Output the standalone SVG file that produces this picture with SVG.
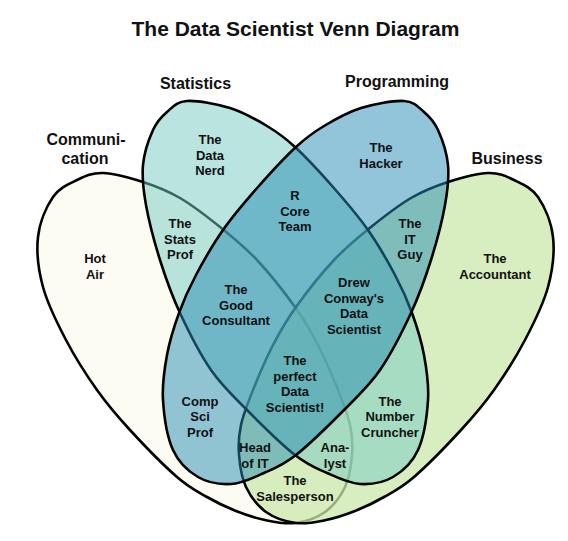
<svg xmlns="http://www.w3.org/2000/svg" xmlns:xlink="http://www.w3.org/1999/xlink" width="568" height="541" viewBox="0 0 568 541">
<style>
text{font-family:"Liberation Sans",Arial,sans-serif;font-weight:bold;fill:#111;text-anchor:middle}
.title{font-size:21px}
.set{font-size:16px}
.reg{font-size:13px}
.shape{stroke:#000;stroke-width:2.6;stroke-linejoin:round}
.comm{fill:#fcfcf2}
.bus{fill:rgb(204,232,171);fill-opacity:0.75}
.stats{fill:rgb(115,201,193);fill-opacity:0.5}
.prog{fill:rgb(37,139,179);fill-opacity:0.5}
</style>
<defs>
<path id="stats-shape" d="M187,101 C197.5,100.33 216.67,103.83 230,108 C243.33,112.17 256.17,119.5 267,126 C277.83,132.5 284,136.83 295,147 C306,157.17 320.83,173.17 333,187 C345.17,200.83 357.67,215.33 368,230 C378.33,244.67 387.67,261.17 395,275 C402.33,288.83 407.17,299.67 412,313 C416.83,326.33 421.33,340.5 424,355 C426.67,369.5 429,384.17 428,400 C427,415.83 423.83,437.17 418,450 C412.17,462.83 402.67,471.33 393,477 C383.33,482.67 371,484.67 360,484 C349,483.33 337.83,477.83 327,473 C316.17,468.17 308.33,465.5 295,455 C281.67,444.5 261,424.17 247,410 C233,395.83 222.17,386.17 211,370 C199.83,353.83 188.5,331.33 180,313 C171.5,294.67 165.67,278 160,260 C154.33,242 148.83,220.83 146,205 C143.17,189.17 141.83,177.5 143,165 C144.17,152.5 149,138.83 153,130 C157,121.17 161.33,116.83 167,112 C172.67,107.17 176.5,101.67 187,101 Z"/>
<path id="comm-shape" d="M103,173 C114,173.33 130.17,177.83 143,182 C155.83,186.17 167.17,190.5 180,198 C192.83,205.5 207.17,216.67 220,227 C232.83,237.33 244.5,246.67 257,260 C269.5,273.33 284.83,292.83 295,307 C305.17,321.17 310.83,331.17 318,345 C325.17,358.83 332.67,376.67 338,390 C343.33,403.33 347.67,414.17 350,425 C352.33,435.83 352.83,444.67 352,455 C351.17,465.33 349.5,477.5 345,487 C340.5,496.5 333.33,506 325,512 C316.67,518 305,521.67 295,523 C285,524.33 274.83,522 265,520 C255.17,518 245.67,514.83 236,511 C226.33,507.17 216.83,502.67 207,497 C197.17,491.33 189.83,488.17 177,477 C164.17,465.83 143.33,444.5 130,430 C116.67,415.5 107.67,405 97,390 C86.33,375 75,357.17 66,340 C57,322.83 47.67,304.17 43,287 C38.33,269.83 36.33,252 38,237 C39.67,222 46.5,206.5 53,197 C59.5,187.5 68.67,184 77,180 C85.33,176 92,172.67 103,173 Z"/>
</defs>
<g id="title"><text class="title" x="295.5" y="36">The Data Scientist Venn Diagram</text></g>
<g id="communication">
<use xlink:href="#comm-shape" class="shape comm"/>
<text class="set" x="86" y="145">Communi-</text>
<text class="set" x="85" y="164">cation</text>
</g>
<g id="business">
<use xlink:href="#comm-shape" class="shape bus" transform="matrix(-1 0 0 1 591 0)"/>
<text class="set" x="507" y="164">Business</text>
</g>
<g id="statistics">
<use xlink:href="#stats-shape" class="shape stats"/>
<text class="set" x="195.5" y="89">Statistics</text>
</g>
<g id="programming">
<use xlink:href="#stats-shape" class="shape prog" transform="matrix(-1 0 0 1 591 0)"/>
<text class="set" x="397" y="87">Programming</text>
</g>
<g id="region-data-nerd"><text class="reg" x="210" y="144">The</text><text class="reg" x="210" y="159.5">Data</text><text class="reg" x="210" y="175">Nerd</text></g>
<g id="region-hacker"><text class="reg" x="381" y="152">The</text><text class="reg" x="381" y="167.5">Hacker</text></g>
<g id="region-stats-prof"><text class="reg" x="180" y="228">The</text><text class="reg" x="180" y="243.5">Stats</text><text class="reg" x="180" y="259">Prof</text></g>
<g id="region-r-core"><text class="reg" x="295" y="200">R</text><text class="reg" x="295" y="215.5">Core</text><text class="reg" x="295" y="231">Team</text></g>
<g id="region-it-guy"><text class="reg" x="410" y="228">The</text><text class="reg" x="410" y="243.5">IT</text><text class="reg" x="410" y="259">Guy</text></g>
<g id="region-hot-air"><text class="reg" x="95" y="263">Hot</text><text class="reg" x="95" y="278.5">Air</text></g>
<g id="region-accountant"><text class="reg" x="495" y="263">The</text><text class="reg" x="495" y="278.5">Accountant</text></g>
<g id="region-good-consultant"><text class="reg" x="236" y="294">The</text><text class="reg" x="236" y="309.5">Good</text><text class="reg" x="236" y="325">Consultant</text></g>
<g id="region-drew-conway"><text class="reg" x="354" y="287">Drew</text><text class="reg" x="354" y="302.5">Conway's</text><text class="reg" x="354" y="318">Data</text><text class="reg" x="354" y="333.5">Scientist</text></g>
<g id="region-perfect"><text class="reg" x="295" y="365">The</text><text class="reg" x="295" y="380.5">perfect</text><text class="reg" x="295" y="396">Data</text><text class="reg" x="295" y="411.5">Scientist!</text></g>
<g id="region-comp-sci-prof"><text class="reg" x="200" y="405.5">Comp</text><text class="reg" x="200" y="421">Sci</text><text class="reg" x="200" y="436.5">Prof</text></g>
<g id="region-number-cruncher"><text class="reg" x="390" y="405.5">The</text><text class="reg" x="390" y="421">Number</text><text class="reg" x="390" y="436.5">Cruncher</text></g>
<g id="region-head-of-it"><text class="reg" x="255" y="452">Head</text><text class="reg" x="255" y="467.5">of IT</text></g>
<g id="region-analyst"><text class="reg" x="335" y="452">Ana-</text><text class="reg" x="335" y="467.5">lyst</text></g>
<g id="region-salesperson"><text class="reg" x="295" y="485">The</text><text class="reg" x="295" y="500.5">Salesperson</text></g>
</svg>
